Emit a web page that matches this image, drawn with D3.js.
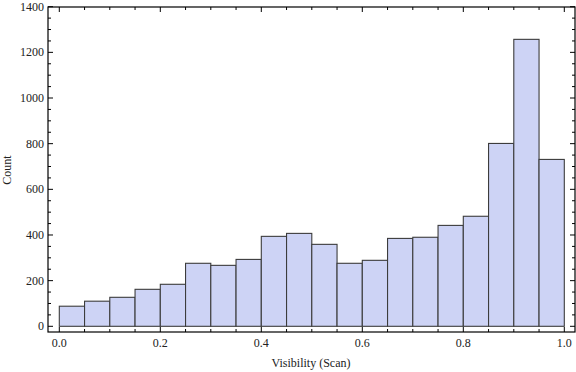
<!DOCTYPE html>
<html><head><meta charset="utf-8">
<script src="https://cdn.jsdelivr.net/npm/d3@7"></script>
<style>body{margin:0;background:#fff}svg{display:block}</style>
</head><body><svg id="c" width="576" height="372"></svg>
<script>
const binStarts = [0,0.05,0.1,0.15,0.2,0.25,0.3,0.35,0.4,0.45,0.5,0.55,0.6,0.65,0.7,0.75,0.8,0.85,0.9,0.95];
const binWidth = 0.05;
const counts = [88,110,127,162,184,276,267,293,394,407,359,276,289,385,390,442,482,801,1257,731];
const xTicks = [0,0.2,0.4,0.6,0.8,1.0];
const yTicks = [0,200,400,600,800,1000,1200,1400];

const svg = d3.select("#c");
const L=48, R=575, T=7, B=332;
const x = d3.scaleLinear().domain([0,1]).range([59.3,564.3]);
const y = d3.scaleLinear().domain([0,1400]).range([326.3,6.7]);
const font = "Liberation Serif, Times New Roman, serif";

svg.append("g").selectAll("rect").data(counts).join("rect")
  .attr("x",(d,i)=>x(binStarts[i]))
  .attr("width",(d,i)=>x(binStarts[i]+binWidth)-x(binStarts[i]))
  .attr("y",d=>y(d)).attr("height",d=>y(0)-y(d))
  .attr("fill","#cdd3f5").attr("stroke","#3c3c3c").attr("stroke-width",1.1);

// frame
svg.append("rect").attr("x",L).attr("y",T).attr("width",R-L).attr("height",B-T)
  .attr("fill","none").attr("stroke","#000").attr("stroke-width",1.2);

const xMinor = d3.range(0,1.0001,0.05);
const yMinor = d3.range(0,1400.1,50);
const tk = svg.append("g").attr("stroke","#000").attr("stroke-width",1);
xMinor.forEach(v=>{
  const maj = Math.abs(Math.round(v*5)-v*5)<1e-6;
  const len = maj?5:3;
  tk.append("line").attr("x1",x(v)).attr("x2",x(v)).attr("y1",B).attr("y2",B-len);
  tk.append("line").attr("x1",x(v)).attr("x2",x(v)).attr("y1",T).attr("y2",T+len);
});
yMinor.forEach(v=>{
  const maj = v%200===0;
  const len = maj?5:3;
  tk.append("line").attr("x1",L).attr("x2",L+len).attr("y1",y(v)).attr("y2",y(v));
  tk.append("line").attr("x1",R).attr("x2",R-len).attr("y1",y(v)).attr("y2",y(v));
});

svg.append("g").selectAll("text").data(xTicks).join("text")
  .attr("x",d=>x(d)).attr("y",347).attr("text-anchor","middle")
  .attr("font-family",font).attr("font-size",12).attr("fill","#222")
  .text(d=>d.toFixed(1));
svg.append("g").selectAll("text").data(yTicks).join("text")
  .attr("x",44).attr("y",d=>y(d)+4).attr("text-anchor","end")
  .attr("font-family",font).attr("font-size",12).attr("fill","#222")
  .text(d=>d);

svg.append("text").attr("x",311).attr("y",367).attr("text-anchor","middle")
  .attr("font-family",font).attr("font-size",12).attr("fill","#222").text("Visibility (Scan)");
svg.append("text").attr("transform","translate(11,170) rotate(-90)").attr("text-anchor","middle")
  .attr("font-family",font).attr("font-size",12).attr("fill","#222").text("Count");
</script></body></html>
